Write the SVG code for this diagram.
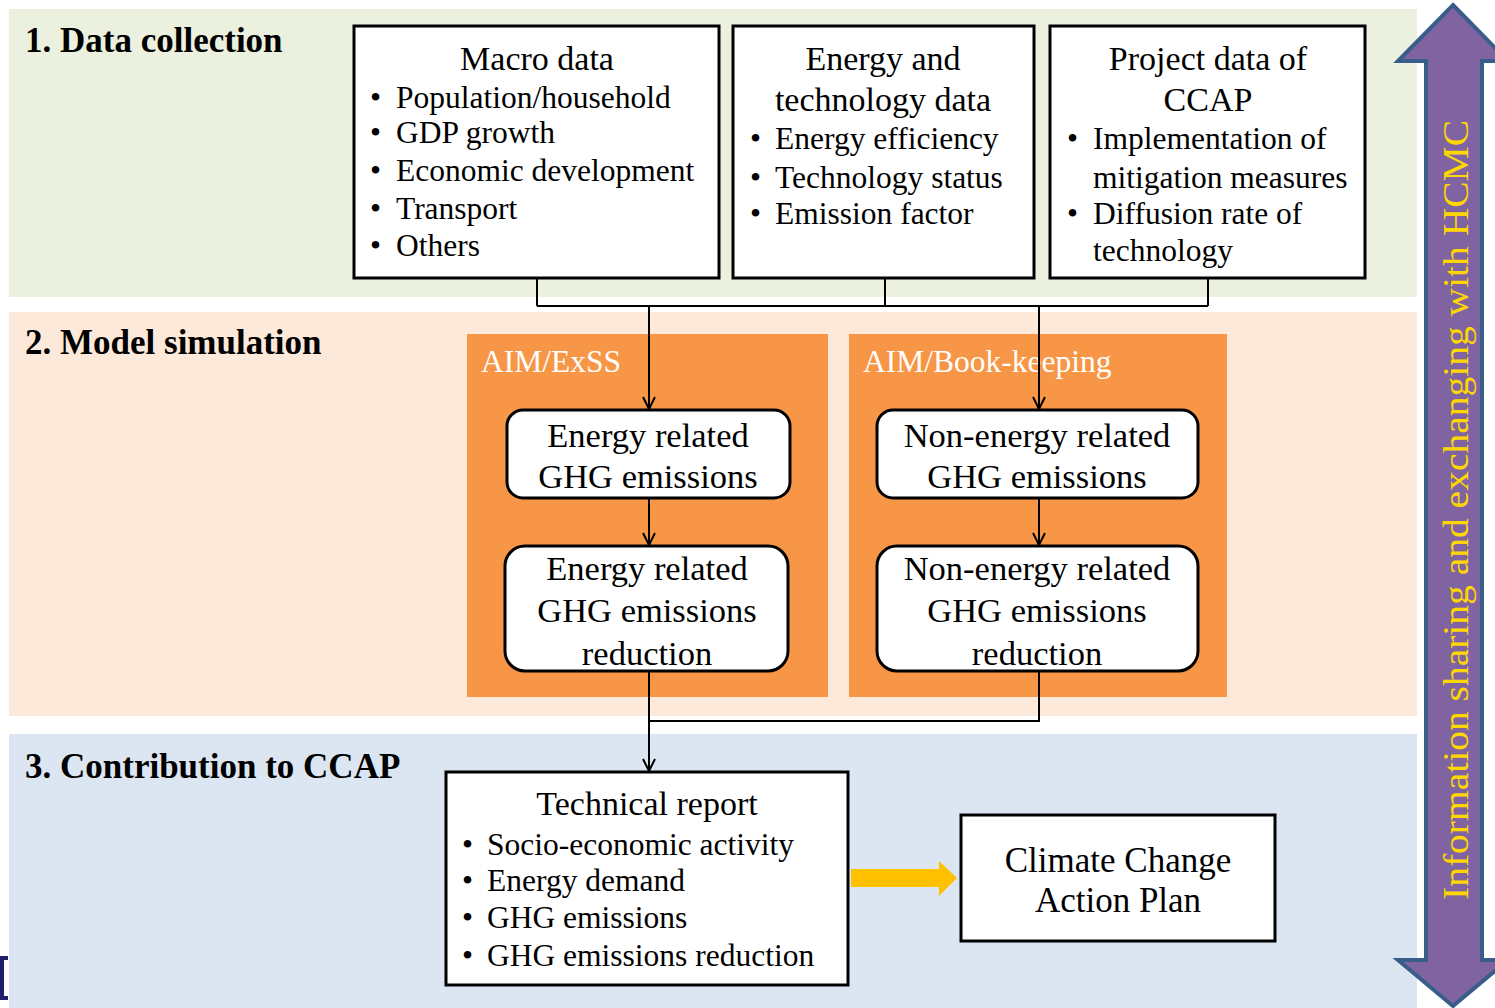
<svg xmlns="http://www.w3.org/2000/svg" width="1495" height="1008" viewBox="0 0 1495 1008">
<defs>
<style>
text{font-family:"Liberation Serif","Times New Roman",serif;fill:#000}
.t{font-size:35px;font-weight:bold}
.h{font-size:34px;text-anchor:middle}
.b{font-size:31.5px}
.g{font-size:34.5px;text-anchor:middle}
.w{font-size:31.5px;fill:#fff}
.box{fill:#fff;stroke:#000;stroke-width:3}
.rb{fill:#fff;stroke:#000;stroke-width:3}
.org{fill:#f79646}
.c{fill:none;stroke:#000;stroke-width:2}
</style>
<marker id="ah" viewBox="0 0 14 14" refX="13" refY="7" markerWidth="14" markerHeight="14" markerUnits="userSpaceOnUse" orient="auto">
<path d="M1,1 L13,7 L1,13" fill="none" stroke="#000" stroke-width="2"/>
</marker>
</defs>

<g id="backgrounds">
<rect x="9" y="9" width="1408" height="288" fill="#ebf1de"/>
<rect x="9" y="312" width="1408" height="404" fill="#fde9d9"/>
<rect x="9" y="734" width="1408" height="274" fill="#dce6f2"/>
</g>

<g id="section-titles">
<text class="t" x="25" y="52">1. Data collection</text>
<text class="t" x="25" y="354">2. Model simulation</text>
<text class="t" x="25" y="778">3. Contribution to CCAP</text>
</g>

<g id="model-aim-exss">
<rect class="org" x="467" y="334" width="361" height="363"/>
<text class="w" x="481" y="372">AIM/ExSS</text>
</g>
<g id="model-aim-bookkeeping">
<rect class="org" x="849" y="334" width="378" height="363"/>
<text class="w" x="863" y="372">AIM/Book-keeping</text>
</g>

<g id="connectors">
<path class="c" d="M537,278 V306 M885,278 V306 M1208,278 V306 M537,306 H1208"/>
<path class="c" d="M649,306 V409" marker-end="url(#ah)"/>
<path class="c" d="M1039,306 V409" marker-end="url(#ah)"/>
<path class="c" d="M649,498 V545" marker-end="url(#ah)"/>
<path class="c" d="M1039,498 V545" marker-end="url(#ah)"/>
<path class="c" d="M1039,671 V721 H649"/>
<path class="c" d="M649,671 V771" marker-end="url(#ah)"/>
<path d="M851,869 H939 V861 L957,878 L939,896 V887 H851 Z" fill="#ffc000"/>
</g>

<g id="macro-data">
<rect class="box" x="354" y="26" width="365" height="252"/>
<text class="h" x="537" y="70">Macro data</text>
<text class="b" x="370" y="108">•</text><text class="b" x="396" y="108">Population/household</text>
<text class="b" x="370" y="143">•</text><text class="b" x="396" y="143">GDP growth</text>
<text class="b" x="370" y="181">•</text><text class="b" x="396" y="181">Economic development</text>
<text class="b" x="370" y="219">•</text><text class="b" x="396" y="219">Transport</text>
<text class="b" x="370" y="256">•</text><text class="b" x="396" y="256">Others</text>
</g>

<g id="energy-technology-data">
<rect class="box" x="733" y="26" width="301" height="252"/>
<text class="h" x="883" y="70">Energy and</text>
<text class="h" x="883" y="111">technology data</text>
<text class="b" x="750" y="149">•</text><text class="b" x="775" y="149">Energy efficiency</text>
<text class="b" x="750" y="188">•</text><text class="b" x="775" y="188">Technology status</text>
<text class="b" x="750" y="224">•</text><text class="b" x="775" y="224">Emission factor</text>
</g>

<g id="project-data">
<rect class="box" x="1050" y="26" width="315" height="252"/>
<text class="h" x="1208" y="70">Project data of</text>
<text class="h" x="1208" y="111">CCAP</text>
<text class="b" x="1067" y="149">•</text><text class="b" x="1093" y="149">Implementation of</text>
<text class="b" x="1093" y="188">mitigation measures</text>
<text class="b" x="1067" y="224">•</text><text class="b" x="1093" y="224">Diffusion rate of</text>
<text class="b" x="1093" y="261">technology</text>
</g>

<g id="energy-ghg">
<rect class="rb" x="507" y="410" width="283" height="88" rx="16"/>
<text class="g" x="648" y="447">Energy related</text>
<text class="g" x="648" y="488">GHG emissions</text>
</g>
<g id="energy-ghg-reduction">
<rect class="rb" x="505" y="546" width="283" height="125" rx="20"/>
<text class="g" x="647" y="580">Energy related</text>
<text class="g" x="647" y="622">GHG emissions</text>
<text class="g" x="647" y="665">reduction</text>
</g>
<g id="nonenergy-ghg">
<rect class="rb" x="877" y="410" width="321" height="88" rx="16"/>
<text class="g" x="1037" y="447">Non-energy related</text>
<text class="g" x="1037" y="488">GHG emissions</text>
</g>
<g id="nonenergy-ghg-reduction">
<rect class="rb" x="877" y="546" width="321" height="125" rx="20"/>
<text class="g" x="1037" y="580">Non-energy related</text>
<text class="g" x="1037" y="622">GHG emissions</text>
<text class="g" x="1037" y="665">reduction</text>
</g>

<g id="technical-report">
<rect class="box" x="446" y="772" width="402" height="213"/>
<text class="h" x="647" y="815">Technical report</text>
<text class="b" x="462" y="855">•</text><text class="b" x="487" y="855">Socio-economic activity</text>
<text class="b" x="462" y="891">•</text><text class="b" x="487" y="891">Energy demand</text>
<text class="b" x="462" y="928">•</text><text class="b" x="487" y="928">GHG emissions</text>
<text class="b" x="462" y="966">•</text><text class="b" x="487" y="966">GHG emissions reduction</text>
</g>

<g id="climate-change-action-plan">
<rect class="box" x="961" y="815" width="314" height="126"/>
<text class="h" x="1118" y="872" style="font-size:35px">Climate Change</text>
<text class="h" x="1118" y="912" style="font-size:35px">Action Plan</text>
</g>

<g id="info-sharing-arrow">
<path d="M1453,5 L1508,61 H1482 V960 H1508 L1453,1006 L1398,960 H1426 V61 H1398 Z" fill="#8064a2" stroke="#385d8a" stroke-width="4" stroke-linejoin="miter"/>
<text x="0" y="0" transform="translate(1468,510) rotate(-90)" text-anchor="middle" font-size="35" textLength="780" lengthAdjust="spacingAndGlyphs" style="fill:#ffd700">Information sharing and exchanging with HCMC</text>
</g>

<g id="edge-mark">
<path d="M8,958 H2 V998 H8" fill="none" stroke="#1f1f6b" stroke-width="4"/>
</g>
</svg>
